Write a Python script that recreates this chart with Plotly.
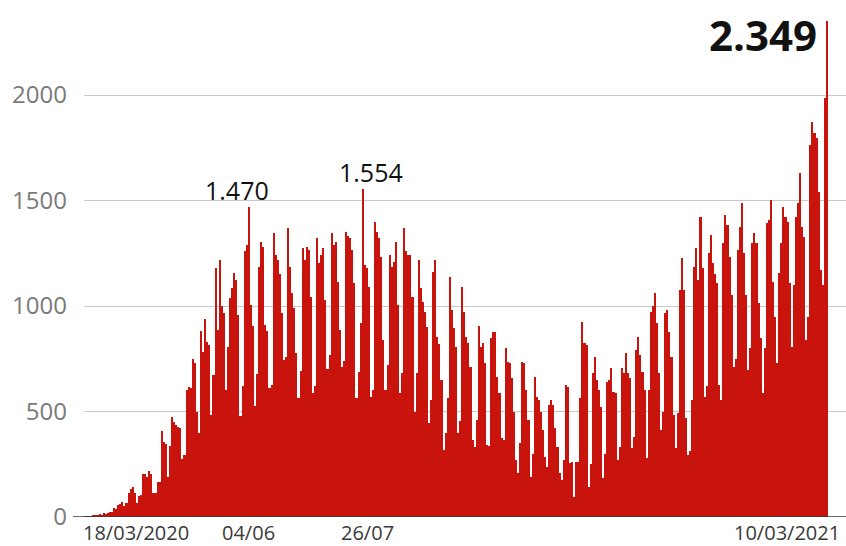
import pandas as pd
import plotly.graph_objects as go

# Daily deaths, one value per day from 17/03/2020 (Tue) to 10/03/2021 (Wed), weeks Tue..Mon
deaths_p1 = [
    1, 3, 3, 4, 7, 7, 9,
    12, 11, 20, 15, 19, 25, 23,
    42, 39, 59, 60, 73, 54, 67,
    114, 133, 141, 115, 68, 99, 105,
    204, 204, 188, 217, 206, 115, 113,
    166, 165, 407, 357, 346, 189, 338,
    474, 449, 435, 428, 421, 275, 296,
    600, 615, 610, 751, 730, 496, 396,
    881, 780, 940, 830, 816, 485, 674,
]
deaths_p2 = [
    1179, 888, 1220, 1001, 965, 600, 807,
    1039, 1086, 1156, 1124, 956, 480, 623,
    1262, 1290, 1470, 1005, 904, 525, 679,
    1185, 1303, 1280, 909, 880, 612, 627,
    1346, 1240, 1218, 1150, 967, 744, 760,
    1370, 1185, 1062, 990, 777, 564, 692,
    1275, 1220, 1280, 1265, 1043, 588, 620,
    1322, 1204, 1240, 1275, 1028, 700, 768,
    1346, 1290, 1303, 1114, 886, 711, 740,
]
deaths_p3 = [
    1351, 1330, 1322, 1265, 1109, 564, 687,
    921, 1554, 1194, 1180, 1088, 569, 600,
    1398, 1350, 1322, 1232, 839, 602, 720,
    1242, 1185, 1210, 1303, 1005, 588, 684,
    1370, 1260, 1242, 1242, 1043, 498, 682,
    1218, 1085, 1020, 972, 900, 445, 553,
    1161, 1218, 853, 820, 649, 318, 400,
    564, 1137, 983, 896, 806, 398, 455,
]
deaths_p4 = [
    1090, 972, 853, 825, 711, 363, 332,
    460, 905, 806, 825, 730, 341, 335,
    848, 877, 877, 663, 588, 374, 363,
    800, 735, 730, 659, 500, 270, 208,
    351, 735, 730, 600, 460, 190, 300,
    663, 569, 555, 500, 412, 284, 237,
    531, 555, 531, 420, 332, 208, 175,
    270, 625, 616, 256, 261, 95, 261,
    261, 564, 924, 825, 815, 142, 250,
]
deaths_p5 = [
    682, 758, 649, 600, 521, 185, 300,
    640, 649, 706, 592, 588, 270, 330,
    706, 682, 777, 682, 659, 327, 380,
    791, 853, 768, 687, 600, 280, 600,
    972, 1000, 1062, 919, 682, 412, 500,
    967, 981, 877, 758, 483, 327, 493,
    1076, 1227, 1076, 469, 294, 314, 555,
    1185, 1275, 1123, 1420, 1180, 569, 620,
]
deaths_p6 = [
    1250, 1336, 1204, 1150, 1109, 626, 555,
    1300, 1431, 1384, 1232, 1050, 711, 750,
    1265, 1374, 1488, 1251, 1050, 697, 800,
    1299, 1346, 1299, 1014, 850, 588, 800,
    1393, 1408, 1502, 1114, 950, 730, 1156,
    1300, 1469, 1420, 1398, 1109, 806, 1100,
    1422, 1488, 1630, 1374, 1327, 839, 950,
    1763, 1872, 1820, 1796, 1540, 1171, 1100,
    1986, 2349,
]

start_date = "2020-03-17"

tick_dates = ["2020-03-18", "2020-06-04", "2020-07-26", "2021-03-10"]
tick_labels = ["18/03/2020", "04/06", "26/07", "10/03/2021"]
tick_anchor = ["left", "center", "center", "right"]
tick_shift = [-5, 0, 11, 14]

peak_dates = ["2020-06-04", "2020-07-29", "2021-03-10"]
peak_labels = ["1.470", "1.554", "2.349"]

y_ticks = [0, 500, 1000, 1500, 2000]

deaths = deaths_p1 + deaths_p2 + deaths_p3 + deaths_p4 + deaths_p5 + deaths_p6
dates = pd.date_range(start_date, periods=len(deaths), freq="D")
val_by_date = dict(zip(dates.strftime("%Y-%m-%d"), deaths))

RED = "#c8140c"

fig = go.Figure()
fig.add_trace(go.Bar(
    x=dates, y=deaths,
    marker=dict(color=RED, line=dict(color=RED, width=0)),
    hoverinfo="skip",
))

x0 = dates[0] - pd.Timedelta(hours=12)
x1 = dates[-1] + pd.Timedelta(days=9.2)

fig.update_layout(
    width=846, height=546,
    margin=dict(l=84, r=0, t=10, b=29),
    paper_bgcolor="white", plot_bgcolor="white",
    bargap=0,
    showlegend=False,
    font=dict(family="Open Sans", color="#333"),
    xaxis=dict(range=[x0, x1], showticklabels=False, showgrid=False,
               zeroline=False, showline=False, ticks=""),
    yaxis=dict(range=[0, 2403], tickvals=y_ticks, ticktext=[str(v) for v in y_ticks],
               showgrid=True, gridcolor="#c9c9c9", gridwidth=1,
               zeroline=False, showline=False, ticks="",
               tickfont=dict(family="Open Sans", size=24, color="#7a7a7a"),
               ticklabelstandoff=16),
)

# baseline
fig.add_shape(type="line", xref="paper", yref="y", x0=-0.0145, x1=1, y0=0, y1=0,
              line=dict(color="#3a3a3a", width=1.5))

# x labels
for d, t, a, s in zip(tick_dates, tick_labels, tick_anchor, tick_shift):
    fig.add_annotation(x=d, y=0, xref="x", yref="paper", text=t, showarrow=False,
                       xanchor=a, yanchor="top", xshift=s, yshift=-1, borderpad=0,
                       font=dict(family="Open Sans", size=20, color="#3a3a3a"))

# peak labels
fig.add_annotation(x=peak_dates[0], y=val_by_date[peak_dates[0]], text=peak_labels[0],
                   showarrow=False, xanchor="center", yanchor="bottom", xshift=-12, yshift=-2,
                   font=dict(family="Open Sans", size=25, color="#111"))
fig.add_annotation(x=peak_dates[1], y=val_by_date[peak_dates[1]], text=peak_labels[1],
                   showarrow=False, xanchor="center", yanchor="bottom", xshift=8, yshift=-2,
                   font=dict(family="Open Sans", size=25, color="#111"))
fig.add_annotation(x=peak_dates[2], y=val_by_date[peak_dates[2]], text="<b>" + peak_labels[2] + "</b>",
                   showarrow=False, xanchor="right", yanchor="middle", xshift=-8, yshift=-13,
                   font=dict(family="Open Sans", size=42, color="#111"))

fig.write_html("out.html")
